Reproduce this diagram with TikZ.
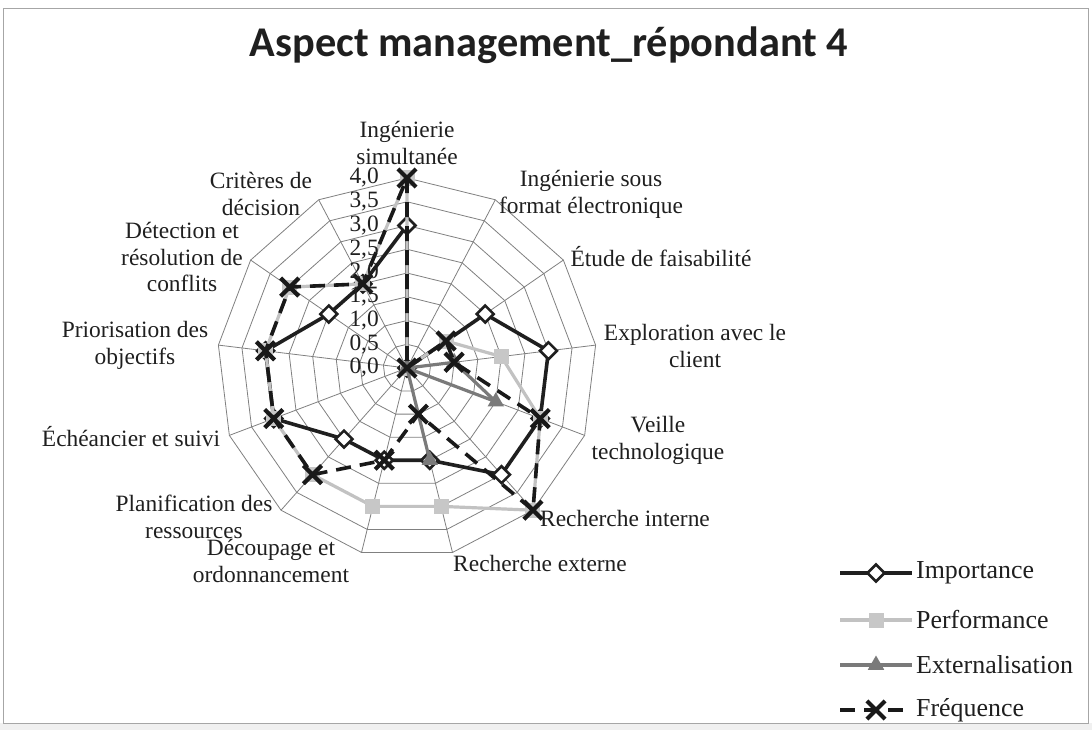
\documentclass[tikz,border=0pt]{standalone}
\usepackage{fontspec}
\setmainfont{Liberation Serif}
\newfontfamily\titlefont{Carlito}
\usetikzlibrary{shapes.geometric,shapes.misc}

% one radar series: name, 13 values, line style, marker style
\newcommand\radarseries[4]{%
  \foreach \v [count=\i from 0] in {#2}
    \coordinate (#1\i) at ({90-\i*360/13}:{\v*47.5});
  \draw[#3] (#10) \foreach \i in {1,...,12} { -- (#1\i) } -- cycle;
  \foreach \i in {0,...,12} \node[#4] (#1m\i) at (#1\i) {};
}

\begin{document}
\begin{tikzpicture}[x=1bp,y=-1bp,
  gridline/.style={draw=black!50, line width=0.8bp},
  txt/.style={font=\fontsize{23.5}{27}\selectfont, inner sep=0pt, text=black!88},
  legtxt/.style={font=\fontsize{26}{30}\selectfont, inner sep=0pt, text=black!88},
  catlabel/.style={txt, align=center},
  ticklabel/.style={txt, anchor=east},
  impline/.style={draw=black!88, line width=3.6bp, line join=round},
  perfline/.style={draw=black!24, line width=3.2bp, line join=round},
  extline/.style={draw=black!52, line width=3.2bp, line join=round},
  freqline/.style={draw=black!90, line width=3.6bp, dash pattern=on 15bp off 9bp},
  impmark/.style={diamond, draw=black!88, fill=white, line width=2.6bp, minimum size=18bp, inner sep=0pt},
  perfmark/.style={rectangle, fill=black!22, minimum size=15bp, inner sep=0pt},
  extmark/.style={regular polygon, regular polygon sides=3, fill=black!52, minimum size=19bp, inner sep=0pt},
  freqmark/.style={cross out, draw=black!90, line width=4.2bp, minimum size=14bp, inner sep=0pt},
]
\useasboundingbox (0,0) rectangle (1092,730);
\fill[white] (0,0) rectangle (1092,730);
\fill[black!6] (0,723) rectangle (1092,730);
\draw[black!35, line width=1bp] (3,9) rectangle (1088,723);

% title
\node[font=\titlefont\bfseries\fontsize{42.5}{48}\selectfont, text=black!88, inner sep=0pt]
  (title) at (549,45) {Aspect management\_répondant 4};

% radar grid and series
\begin{scope}[shift={(407,368)}, y=1bp]
  \foreach \r in {1,...,8}
    \draw[gridline] (90:{\r*23.75}) \foreach \k in {1,...,12} { -- ({90-\k*360/13}:{\r*23.75}) } -- cycle;
  \foreach \k in {0,...,12}
    \draw[gridline] (0,0) -- ({90-\k*360/13}:190);

  \radarseries{imp}{3,0,2,3,3,3,2,2,2,3,3,2,2}{impline}{impmark}
  \radarseries{perf}{4,0,1,2,3,4,3,3,3,3,3,3,2}{perfline}{perfmark}
  \radarseries{ext}{0,0,0,1,2,0,2,0,0,0,0,0,0}{extline}{extmark}
  \radarseries{freq}{4,0,1,1,3,4,1,2,3,3,3,3,2}{freqline}{freqmark}
\end{scope}

% scale values
\foreach \i/\t in {0/0{,}0,1/0{,}5,2/1{,}0,3/1{,}5,4/2{,}0,5/2{,}5,6/3{,}0,7/3{,}5,8/4{,}0}
  \node[ticklabel] (tick\i) at (379,{368-\i*23.75}) {\t};

% category labels
\node[catlabel] (cat0)  at (407,143) {Ingénierie\\simultanée};
\node[catlabel] (cat1)  at (591,194) {Ingénierie sous\\format électronique};
\node[catlabel] (cat2)  at (661,257) {Étude de faisabilité};
\node[catlabel] (cat3)  at (695,346) {Exploration avec le\\client};
\node[catlabel] (cat4)  at (658,440) {Veille\\technologique};
\node[catlabel] (cat5)  at (625,518) {Recherche interne};
\node[catlabel] (cat6)  at (540,563) {Recherche externe};
\node[catlabel] (cat7)  at (271,561) {Découpage et\\ordonnancement};
\node[catlabel] (cat8)  at (194,517) {Planification des\\ressources};
\node[catlabel] (cat9)  at (131,437) {Échéancier et suivi};
\node[catlabel] (cat10) at (135,345) {Priorisation des\\objectifs};
\node[catlabel] (cat11) at (182,257) {Détection et\\résolution de\\conflits};
\node[catlabel] (cat12) at (261,194) {Critères de\\décision};

% legend
\foreach \s/\y/\ls/\ms/\t in {imp/573/impline/impmark/Importance,
                              perf/620/perfline/perfmark/Performance,
                              ext/665/extline/extmark/Externalisation,
                              freq/710/freqline/freqmark/Fréquence} {
  \coordinate (leg\s a) at (840,\y);
  \coordinate (leg\s b) at (912,\y);
  \draw[\ls] (leg\s a) -- (leg\s b);
  \node[\ms] (leg\s m) at (876,\y) {};
  \node[legtxt, anchor=west] (leg\s t) at (916,\y) {\t};
}
\end{tikzpicture}
\end{document}
